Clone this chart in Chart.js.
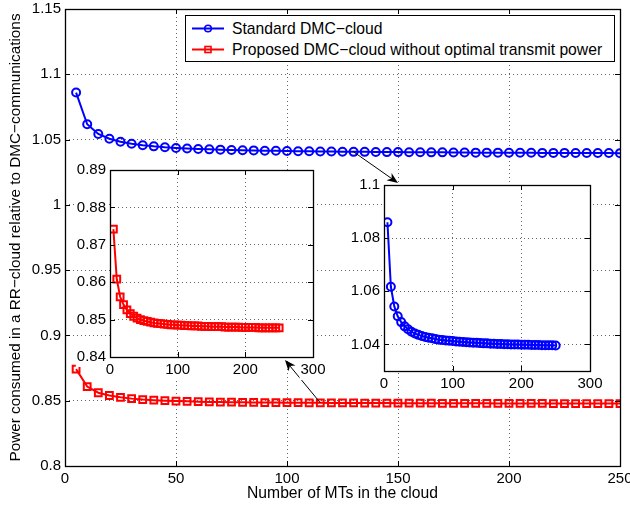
<!DOCTYPE html>
<html><head><meta charset="utf-8">
<script src="https://cdn.jsdelivr.net/npm/chart.js@4.4.1/dist/chart.umd.min.js"></script>
<style>
html,body{margin:0;padding:0;background:#fff;}
#wrap{position:relative;width:630px;height:511px;overflow:hidden;font-family:"Liberation Sans",Arial,sans-serif;}
#wrap canvas{position:absolute;}
#legend{position:absolute;left:185px;top:15px;width:428px;height:45px;border:1px solid #000;background:#fff;font-size:15.7px;color:#000;}
.row{position:absolute;left:0;height:21px;line-height:21px;white-space:nowrap;}
.row svg{position:absolute;left:6px;top:5px;}
.row span{position:absolute;left:46px;top:0;}
</style></head>
<body><div id="wrap">
<canvas id="main"></canvas>
<canvas id="inL"></canvas>
<canvas id="inR"></canvas>
<div id="legend"></div>
</div>
<script>
// ---------------- data ----------------
const seriesNames = ["Standard DMC\u2212cloud", "Proposed DMC\u2212cloud without optimal transmit power"];
const mtCounts = [5,10,15,20,25,30,35,40,45,50,55,60,65,70,75,80,85,90,95,100,105,110,115,120,125,130,135,140,145,150,155,160,165,170,175,180,185,190,195,200,205,210,215,220,225,230,235,240,245,250];
const standardDMC = [1.0860,1.0617,1.0543,1.0506,1.0484,1.0468,1.0457,1.0448,1.0441,1.0436,1.0432,1.0428,1.0425,1.0423,1.0420,1.0418,1.0417,1.0415,1.0414,1.0413,1.0411,1.0410,1.0409,1.0408,1.0407,1.0406,1.0406,1.0405,1.0404,1.0404,1.0403,1.0403,1.0402,1.0402,1.0401,1.0401,1.0400,1.0400,1.0400,1.0399,1.0399,1.0399,1.0398,1.0398,1.0398,1.0397,1.0397,1.0397,1.0397,1.0396];
const proposedDMC = [0.8742,0.8608,0.8561,0.8540,0.8526,0.8516,0.8509,0.8504,0.8500,0.8497,0.8495,0.8493,0.8491,0.8490,0.8489,0.8488,0.8487,0.8486,0.8486,0.8485,0.8485,0.8484,0.8484,0.8483,0.8483,0.8483,0.8482,0.8482,0.8482,0.8481,0.8481,0.8481,0.8481,0.8480,0.8480,0.8480,0.8480,0.8480,0.8479,0.8479,0.8479,0.8479,0.8479,0.8478,0.8478,0.8478,0.8478,0.8478,0.8478,0.8478];
const mainXTicks = [0,50,100,150,200,250];
const mainYTicks = [0.8,0.85,0.9,0.95,1,1.05,1.1,1.15];
const insetXTicks = [0,100,200,300];
const redInsetYTicks = [0.84,0.85,0.86,0.87,0.88,0.89];
const blueInsetYTicks = [1.04,1.06,1.08,1.1];
const xTitle = "Number of MTs in the cloud";
const yTitle = "Power consumed in a RR\u2212cloud relative to DMC\u2212communications";

// ---------------- styles ----------------
const BLUE = '#0000ff', RED = '#ff0000';
Chart.defaults.font.family = "'Liberation Sans', Arial, Helvetica, sans-serif";
Chart.defaults.font.size = 15;
Chart.defaults.color = '#000';

const pts = (vals) => mtCounts.map((x, i) => ({x: x, y: vals[i]}));
function ds(label, vals, color, style, r) {
  return {label, data: pts(vals), borderColor: color, borderWidth: 2,
    pointStyle: style, pointRadius: r, pointBorderWidth: 2, pointBorderColor: color,
    pointBackgroundColor: 'rgba(0,0,0,0)', tension: 0, fill: false};
}
const fmt2 = v => String(+(+v).toFixed(2));
const fmtFixed2 = v => (+v).toFixed(2);

function scale(min, max, ticks, fmt, fixed, isX, extra) {
  const s = {
    type: 'linear', min, max,
    grid: {color: 'rgba(0,0,0,0.6)', lineWidth: 1, drawTicks: false},
    border: {display: false, dash: [1, 3]},
    ticks: Object.assign({padding: 4, autoSkip: false, maxRotation: 0, callback: fmt}, extra || {}),
    afterBuildTicks: sc => { sc.ticks = ticks.map(v => ({value: v})); },
    afterFit: sc => {
      sc.paddingLeft = 0; sc.paddingRight = 0; sc.paddingTop = 0; sc.paddingBottom = 0;
      if (isX) sc.height = fixed; else sc.width = fixed;
    }
  };
  return s;
}

const boxPlugin = {
  id: 'mbox',
  afterDatasetsDraw(chart, args, opts) {
    const {ctx, chartArea: a, scales: {x, y}} = chart;
    const L = 5;
    ctx.save();
    ctx.strokeStyle = '#000'; ctx.lineWidth = 1; ctx.setLineDash([]);
    ctx.beginPath();
    x.ticks.forEach(t => {
      const px = Math.round(x.getPixelForValue(t.value)) + 0.5;
      ctx.moveTo(px, a.bottom); ctx.lineTo(px, a.bottom - L);
      ctx.moveTo(px, a.top); ctx.lineTo(px, a.top + L);
    });
    y.ticks.forEach(t => {
      const py = Math.round(y.getPixelForValue(t.value)) + 0.5;
      ctx.moveTo(a.left, py); ctx.lineTo(a.left + L, py);
      ctx.moveTo(a.right, py); ctx.lineTo(a.right - L, py);
    });
    ctx.stroke();
    ctx.lineWidth = 1.3;
    ctx.strokeRect(Math.round(a.left) + 0.5, Math.round(a.top) + 0.5, Math.round(a.right - a.left), Math.round(a.bottom - a.top));
    ctx.restore();
  }
};
const whiteArea = {
  id: 'whiteArea',
  beforeDraw(chart) {
    const {ctx, chartArea: a} = chart;
    ctx.save(); ctx.fillStyle = '#fff';
    ctx.fillRect(a.left, a.top, a.right - a.left, a.bottom - a.top);
    ctx.restore();
  }
};

// ---------------- geometry ----------------
const W = 630, H = 511;
const MAIN = {left: 65, top: 9, right: 620, bottom: 466};
const LIN = {cx: 60, cy: 150, cw: 280, ch: 240, left: 110, top: 170, right: 313, bottom: 357};
const RIN = {cx: 334, cy: 165, cw: 290, ch: 240, left: 384, top: 185, right: 590, bottom: 371};

function setupCanvas(id, x, y, w, h) {
  const c = document.getElementById(id);
  c.width = w; c.height = h;
  c.style.left = x + 'px'; c.style.top = y + 'px';
  c.style.width = w + 'px'; c.style.height = h + 'px';
  return c;
}

function drawArrow(ctx, x1, y1, x2, y2) {
  const ang = Math.atan2(y2 - y1, x2 - x1);
  const cos = Math.cos(ang), sin = Math.sin(ang);
  const len = 11, w = 4.5;
  ctx.save();
  ctx.strokeStyle = '#000'; ctx.fillStyle = '#000'; ctx.lineWidth = 1;
  ctx.beginPath(); ctx.moveTo(x1, y1); ctx.lineTo(x2 - cos * 6, y2 - sin * 6); ctx.stroke();
  const bx = x2 - len * cos, by = y2 - len * sin;
  const mx = x2 - 0.7 * len * cos, my = y2 - 0.7 * len * sin;
  ctx.beginPath();
  ctx.moveTo(x2, y2);
  ctx.lineTo(bx - w * sin, by + w * cos);
  ctx.lineTo(mx, my);
  ctx.lineTo(bx + w * sin, by - w * cos);
  ctx.closePath(); ctx.fill();
  ctx.restore();
}

const arrowPlugin = {
  id: 'arrows',
  afterDraw(chart) {
    const {ctx, scales: {x, y}} = chart;
    const iB = mtCounts.indexOf(130), iR = mtCounts.indexOf(115);
    drawArrow(ctx, x.getPixelForValue(130), y.getPixelForValue(standardDMC[iB]), RIN.left + 14, RIN.top - 2);
    drawArrow(ctx, x.getPixelForValue(115), y.getPixelForValue(proposedDMC[iR]), LIN.right - 28, LIN.bottom + 3);
  }
};

// ---------------- main chart ----------------
const mainCanvas = setupCanvas('main', 0, 0, W, H);
new Chart(mainCanvas, {
  type: 'line',
  data: {datasets: [
    ds(seriesNames[0], standardDMC, BLUE, 'circle', 4),
    ds(seriesNames[1], proposedDMC, RED, 'rect', 4.8)
  ]},
  options: {
    responsive: false, animation: false, devicePixelRatio: 1,
    layout: {padding: {left: 0, top: MAIN.top, right: W - MAIN.right, bottom: 0}},
    plugins: {legend: {display: false}, tooltip: {enabled: false}},
    scales: {
      x: Object.assign(scale(0, 250, mainXTicks, fmt2, H - MAIN.bottom, true), {
        title: {display: true, text: xTitle, padding: {top: 0, bottom: 8}, font: {size: 15.7}}
      }),
      y: Object.assign(scale(0.8, 1.15, mainYTicks, fmt2, MAIN.left, false), {
        title: {display: true, text: yTitle, padding: {top: 7, bottom: 0}, font: {size: 15.3}}
      })
    }
  },
  plugins: [boxPlugin, arrowPlugin]
});

// ---------------- insets ----------------
function inset(id, g, vals, color, style, r, yMin, yMax, yTicks, yFmt) {
  const c = setupCanvas(id, g.cx, g.cy, g.cw, g.ch);
  const back = {showLabelBackdrop: true, backdropColor: '#fff', backdropPadding: 1};
  new Chart(c, {
    type: 'line',
    data: {datasets: [ds('', vals, color, style, r)]},
    options: {
      responsive: false, animation: false, devicePixelRatio: 1,
      layout: {padding: {left: 0, top: g.top - g.cy, right: g.cx + g.cw - g.right, bottom: 0}},
      plugins: {legend: {display: false}, tooltip: {enabled: false}},
      scales: {
        x: scale(0, 300, insetXTicks, fmt2, g.cy + g.ch - g.bottom, true, back),
        y: scale(yMin, yMax, yTicks, yFmt, g.left - g.cx, false, back)
      }
    },
    plugins: [whiteArea, boxPlugin]
  });
}
inset('inL', LIN, proposedDMC, RED, 'rect', 4.8, 0.84, 0.89, redInsetYTicks, fmtFixed2);
inset('inR', RIN, standardDMC, BLUE, 'circle', 4, 1.03, 1.1, blueInsetYTicks, fmt2);

// ---------------- legend (HTML text) ----------------
const legend = document.getElementById('legend');
[[BLUE, 'circle'], [RED, 'rect']].forEach((st, i) => {
  const row = document.createElement('div');
  row.className = 'row';
  row.style.top = (2 + i * 21) + 'px';
  const marker = st[1] === 'circle'
    ? `<circle cx="16" cy="5.5" r="3.3" fill="none" stroke="${st[0]}" stroke-width="1.6"/>`
    : `<rect x="13" y="2.5" width="6" height="6" fill="none" stroke="${st[0]}" stroke-width="1.6"/>`;
  row.innerHTML = `<svg width="33" height="11"><line x1="0" y1="5.5" x2="32" y2="5.5" stroke="${st[0]}" stroke-width="2"/>${marker}</svg><span></span>`;
  row.querySelector('span').textContent = seriesNames[i];
  legend.appendChild(row);
});
</script>
</body></html>
